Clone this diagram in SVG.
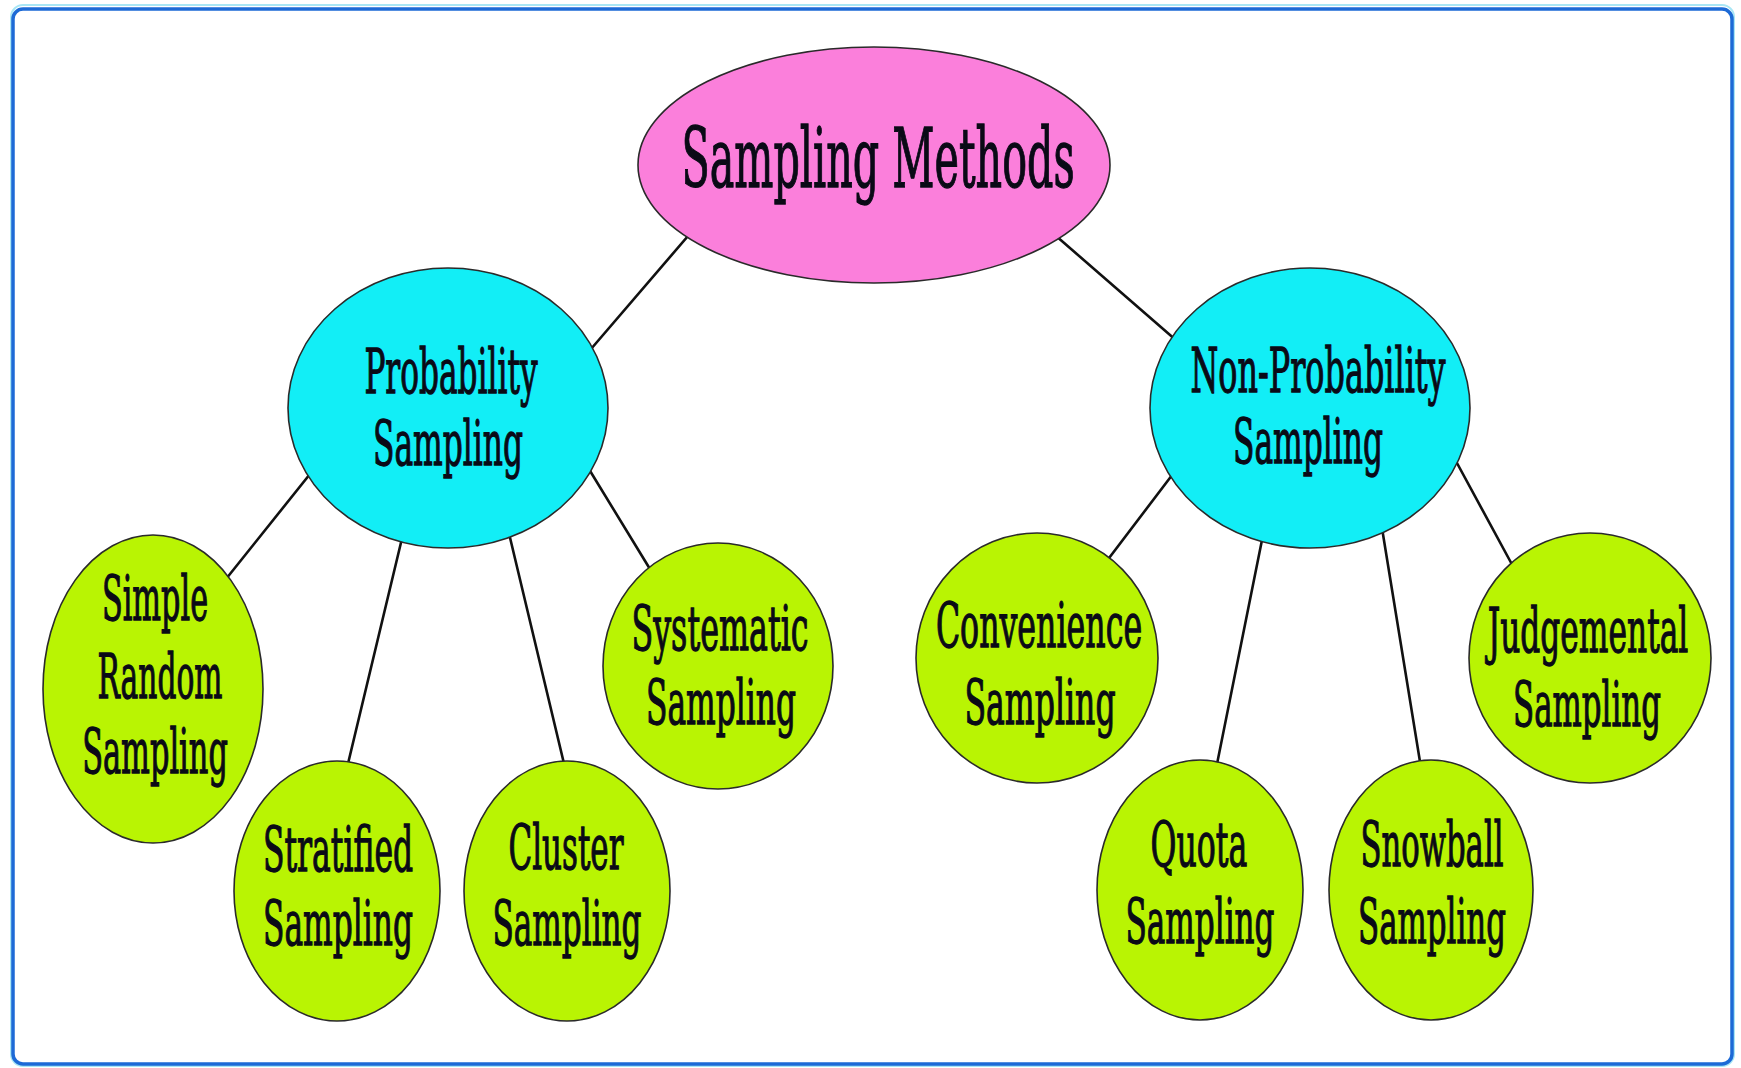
<svg xmlns="http://www.w3.org/2000/svg" width="1741" height="1068" viewBox="0 0 1741 1068">
  <style>
    .frame { fill: #ffffff; stroke: #1d6ad6; stroke-width: 3.5; }
    .glow { fill: none; stroke: #a8e6f5; stroke-width: 2; }
    .link { stroke: #111111; stroke-width: 2.6; fill: none; stroke-linecap: round; }
    .node { stroke: #2a2a2a; stroke-width: 1.6; }
    .root { fill: #fb7fdb; }
    .mid { fill: #12eef6; }
    .leaf { fill: #b9f403; }
    text { font-family: "DejaVu Serif", "Liberation Serif", serif; fill: #0a0a16; stroke: #0a0a16; stroke-width: 1.3; text-anchor: middle; }
    .t1 { font-size: 82px; }
    .t2 { font-size: 62px; }
  </style>

  <!-- outer frame -->
  <rect class="glow" x="11" y="5" width="1723" height="1061" rx="12"/>
  <rect class="frame" x="13" y="9" width="1719" height="1055" rx="10"/>

  <!-- connectors, drawn beneath the nodes -->
  <g id="connectors">
    <line class="link" x1="700" y1="222" x2="585" y2="356"/>
    <line class="link" x1="1040" y1="222" x2="1185" y2="348"/>
    <line class="link" x1="318" y1="464" x2="222" y2="584"/>
    <line class="link" x1="404" y1="530" x2="346" y2="772"/>
    <line class="link" x1="507" y1="525" x2="566" y2="772"/>
    <line class="link" x1="584" y1="461" x2="653" y2="574"/>
    <line class="link" x1="1182" y1="462" x2="1103" y2="566"/>
    <line class="link" x1="1264" y1="530" x2="1215" y2="774"/>
    <line class="link" x1="1381" y1="522" x2="1422" y2="774"/>
    <line class="link" x1="1451" y1="452" x2="1515" y2="570"/>
  </g>

  <!-- labels use a horizontally condensed serif: translate to the line origin, then squeeze x -->
  <g id="sampling-methods">
    <ellipse class="node root" cx="874" cy="165" rx="236" ry="118"/>
    <text class="t1" transform="translate(878 187) scale(0.55 1)" textLength="715" lengthAdjust="spacingAndGlyphs">Sampling Methods</text>
  </g>

  <g id="probability-sampling">
    <ellipse class="node mid" cx="448" cy="408" rx="160" ry="140"/>
    <text class="t2" transform="translate(451 393) scale(0.55 1)" textLength="315" lengthAdjust="spacingAndGlyphs">Probability</text>
    <text class="t2" transform="translate(448 465) scale(0.55 1)" textLength="273" lengthAdjust="spacingAndGlyphs">Sampling</text>
  </g>

  <g id="non-probability-sampling">
    <ellipse class="node mid" cx="1310" cy="408" rx="160" ry="140"/>
    <text class="t2" transform="translate(1318 392) scale(0.55 1)" textLength="464" lengthAdjust="spacingAndGlyphs">Non-Probability</text>
    <text class="t2" transform="translate(1308 463) scale(0.55 1)" textLength="273" lengthAdjust="spacingAndGlyphs">Sampling</text>
  </g>

  <g id="simple-random-sampling">
    <ellipse class="node leaf" cx="153" cy="689" rx="110" ry="154"/>
    <text class="t2" transform="translate(155 620) scale(0.55 1)" textLength="193" lengthAdjust="spacingAndGlyphs">Simple</text>
    <text class="t2" transform="translate(160 698) scale(0.55 1)" textLength="227" lengthAdjust="spacingAndGlyphs">Random</text>
    <text class="t2" transform="translate(155 773) scale(0.55 1)" textLength="265" lengthAdjust="spacingAndGlyphs">Sampling</text>
  </g>

  <g id="stratified-sampling">
    <ellipse class="node leaf" cx="337" cy="891" rx="103" ry="130"/>
    <text class="t2" transform="translate(338 871) scale(0.55 1)" textLength="273" lengthAdjust="spacingAndGlyphs">Stratified</text>
    <text class="t2" transform="translate(338 945) scale(0.55 1)" textLength="273" lengthAdjust="spacingAndGlyphs">Sampling</text>
  </g>

  <g id="cluster-sampling">
    <ellipse class="node leaf" cx="567" cy="891" rx="103" ry="130"/>
    <text class="t2" transform="translate(566 869) scale(0.55 1)" textLength="209" lengthAdjust="spacingAndGlyphs">Cluster</text>
    <text class="t2" transform="translate(567 945) scale(0.55 1)" textLength="271" lengthAdjust="spacingAndGlyphs">Sampling</text>
  </g>

  <g id="systematic-sampling">
    <ellipse class="node leaf" cx="718" cy="666" rx="115" ry="123"/>
    <text class="t2" transform="translate(720 650) scale(0.55 1)" textLength="322" lengthAdjust="spacingAndGlyphs">Systematic</text>
    <text class="t2" transform="translate(721 724) scale(0.55 1)" textLength="273" lengthAdjust="spacingAndGlyphs">Sampling</text>
  </g>

  <g id="convenience-sampling">
    <ellipse class="node leaf" cx="1037" cy="658" rx="121" ry="125"/>
    <text class="t2" transform="translate(1039 647) scale(0.55 1)" textLength="375" lengthAdjust="spacingAndGlyphs">Convenience</text>
    <text class="t2" transform="translate(1040 724) scale(0.55 1)" textLength="275" lengthAdjust="spacingAndGlyphs">Sampling</text>
  </g>

  <g id="quota-sampling">
    <ellipse class="node leaf" cx="1200" cy="890" rx="103" ry="130"/>
    <text class="t2" transform="translate(1199 866) scale(0.55 1)" textLength="176" lengthAdjust="spacingAndGlyphs">Quota</text>
    <text class="t2" transform="translate(1200 943) scale(0.55 1)" textLength="271" lengthAdjust="spacingAndGlyphs">Sampling</text>
  </g>

  <g id="snowball-sampling">
    <ellipse class="node leaf" cx="1431" cy="890" rx="102" ry="130"/>
    <text class="t2" transform="translate(1432 866) scale(0.55 1)" textLength="260" lengthAdjust="spacingAndGlyphs">Snowball</text>
    <text class="t2" transform="translate(1432 943) scale(0.55 1)" textLength="269" lengthAdjust="spacingAndGlyphs">Sampling</text>
  </g>

  <g id="judgemental-sampling">
    <ellipse class="node leaf" cx="1590" cy="658" rx="121" ry="125"/>
    <text class="t2" transform="translate(1588 652) scale(0.55 1)" textLength="365" lengthAdjust="spacingAndGlyphs">Judgemental</text>
    <text class="t2" transform="translate(1587 726) scale(0.55 1)" textLength="269" lengthAdjust="spacingAndGlyphs">Sampling</text>
  </g>
</svg>
